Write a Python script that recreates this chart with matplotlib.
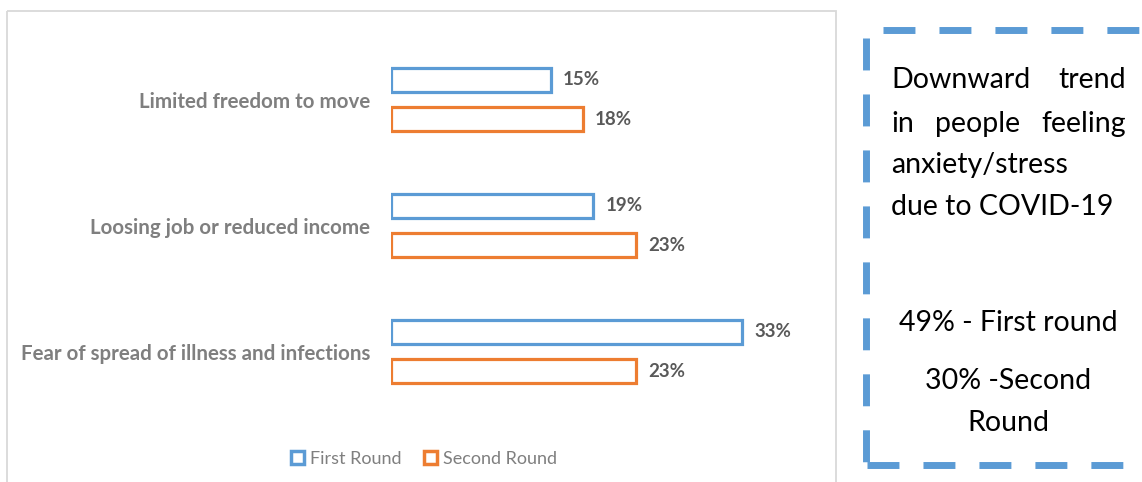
import matplotlib
matplotlib.use("Agg")
import matplotlib.pyplot as plt
from matplotlib.patches import Patch, Rectangle
from matplotlib.lines import Line2D

# ---- data ----
categories = ["Limited freedom to move",
              "Loosing job or reduced income",
              "Fear of spread of illness and infections"]
first_round = [0.15, 0.19, 0.33]
second_round = [0.18, 0.23, 0.23]
series_names = ["First Round", "Second Round"]
note_lines = [["Downward", "trend"],
              ["in", "people", "feeling"],
              ["anxiety/stress"],
              ["due to COVID-19"]]
note_totals = ["49% - First round", "30% -Second", "Round"]

BLUE = "#5B9BD5"
ORANGE = "#ED7D31"
GREY = "#595959"
LIGHT_GREY = "#7F7F7F"
FONT = "Lato"

W, H = 1142, 482
fig = plt.figure(figsize=(W / 100, H / 100), dpi=100)
fig.patch.set_facecolor("white")

# overlay axes in pixel coordinates for the frame and the note box
deco = fig.add_axes([0, 0, 1, 1], zorder=0)
deco.set_xlim(0, W)
deco.set_ylim(H, 0)
deco.axis("off")

# chart frame
deco.add_patch(Rectangle((6.5, 10.5), 829, 480, fill=False,
                         edgecolor="#D9D9D9", linewidth=1.3))

# ---- bar chart ----
ax_left, ax_right = 391, 391 + 0.36 * 1064
ax_top, ax_bottom = 20, 430
ax = fig.add_axes([ax_left / W, 1 - ax_bottom / H,
                   (ax_right - ax_left) / W, (ax_bottom - ax_top) / H], zorder=1)
ax.patch.set_alpha(0)

pos = list(range(len(categories)))
off = 0.155
h = 0.19
ax.barh([p - off for p in pos], first_round, height=h, left=0,
        facecolor="white", edgecolor=BLUE, linewidth=2.3)
ax.barh([p + off for p in pos], second_round, height=h, left=0,
        facecolor="white", edgecolor=ORANGE, linewidth=2.3)

for p, v1, v2 in zip(pos, first_round, second_round):
    ax.text(v1 + 0.0115, p - off, f"{v1*100:.0f}%", va="center", ha="left",
            fontsize=13.5, fontweight="bold", color=GREY, family=FONT)
    ax.text(v2 + 0.0115, p + off, f"{v2*100:.0f}%", va="center", ha="left",
            fontsize=13.5, fontweight="bold", color=GREY, family=FONT)

ax.set_xlim(0, 0.36)
ax.set_ylim(2 + (ax_bottom - 351.5) / 126, 0 - (99.5 - ax_top) / 126)
ax.set_yticks(pos)
ax.set_yticklabels(categories, fontsize=14.8, fontweight="bold",
                   color=LIGHT_GREY, family=FONT)
ax.tick_params(axis="y", length=0, pad=15)
ax.set_xticks([])
for s in ax.spines.values():
    s.set_visible(False)

handles = [Patch(facecolor="white", edgecolor=BLUE, linewidth=2.5),
           Patch(facecolor="white", edgecolor=ORANGE, linewidth=2.5)]
fig.legend(handles, series_names, loc="center", ncol=2, frameon=False,
           bbox_to_anchor=(424 / W, 1 - 459 / H), handlelength=0.7,
           handleheight=0.7, handletextpad=0.3, columnspacing=1.3,
           prop={"family": FONT, "size": 13}, labelcolor=LIGHT_GREY)

# ---- note box with dashed border ----
LW = 5
dash_pat = (0, (23 / LW, 17.3 / LW))
dash = dict(color=BLUE, linewidth=LW, linestyle=dash_pat,
            solid_capstyle="butt", dash_capstyle="butt")
deco.plot([883, W + 10], [30, 30], **dash)
deco.add_line(Line2D([866, 866], [38, 462], **dash))
deco.plot([867, W], [465, 465], **dash)

text_kw = dict(fontsize=20.5, color="black", family=FONT, va="center")
line_y = [80, 124, 165, 207]
left_x, right_x = 891, 1126
words = []
for words_in_line, y in zip(note_lines, line_y):
    row = [deco.text(left_x, y, w, ha="left", **text_kw) for w in words_in_line]
    words.append(row)

# justify the first two lines across the box width
fig.canvas.draw()
renderer = fig.canvas.get_renderer()
inv = deco.transData.inverted()
for row in words[:2]:
    widths = []
    for t in row:
        bb = t.get_window_extent(renderer)
        x0 = inv.transform((bb.x0, bb.y0))[0]
        x1 = inv.transform((bb.x1, bb.y0))[0]
        widths.append(x1 - x0)
    gap = (right_x - left_x - sum(widths)) / (len(row) - 1)
    x = left_x
    for t, wd in zip(row, widths):
        t.set_x(x)
        x += wd + gap

for s, y in zip(note_totals, [323, 381, 423]):
    deco.text(1008, y, s, ha="center", **text_kw)

fig.savefig("out.png", dpi=100, facecolor="white")
